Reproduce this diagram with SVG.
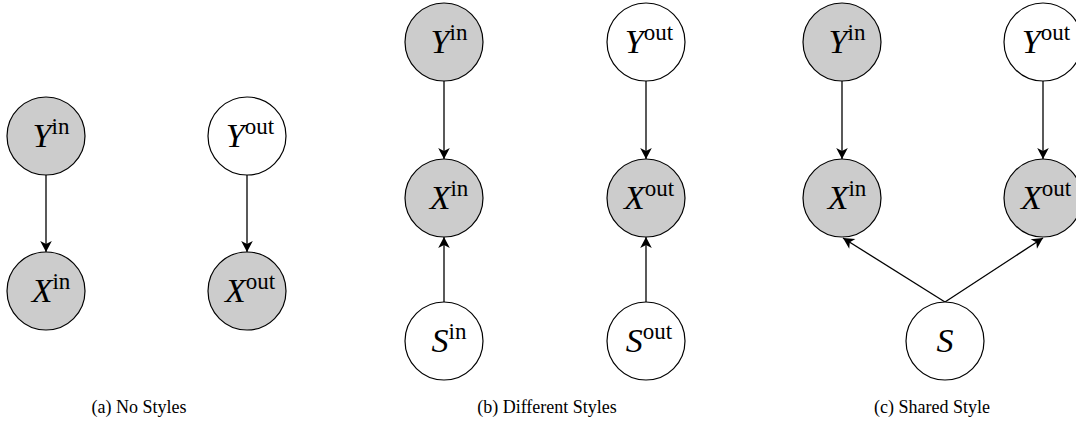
<svg xmlns="http://www.w3.org/2000/svg" width="1076" height="425" viewBox="0 0 1076 425">
<style>
.n{stroke:#000;stroke-width:1.2}
.obs{fill:#cccccc}
.lat{fill:#ffffff}
.lbl{font-family:"Liberation Serif","Times New Roman",serif;font-size:34px;fill:#000;text-anchor:middle}
.v{font-family:"Liberation Serif","Times New Roman",serif;font-style:italic}
.s{font-family:"Liberation Serif","Times New Roman",serif;font-style:normal;font-size:23px}
.e{stroke:#000;stroke-width:1.3;fill:none;marker-end:url(#ah)}
.cap{font-family:"Liberation Serif","Times New Roman",serif;font-size:18px;fill:#000;text-anchor:middle}
</style>
<defs>
<marker id="ah" markerUnits="userSpaceOnUse" markerWidth="13" markerHeight="13" viewBox="0 -6.5 12 13" refX="11" refY="0" orient="auto">
<path d="M11,0 L0,-5.8 L3,0 L0,5.8 Z" fill="#000"/>
</marker>
</defs>
<rect width="1076" height="425" fill="#fff"/>
<g id="connectors">
<line class="e" x1="46" y1="175" x2="46" y2="252"/>
<line class="e" x1="247" y1="175" x2="247" y2="252"/>
<line class="e" x1="444" y1="81" x2="444" y2="159"/>
<line class="e" x1="444" y1="302" x2="444" y2="237"/>
<line class="e" x1="646" y1="81" x2="646" y2="159"/>
<line class="e" x1="646" y1="302" x2="646" y2="237"/>
<line class="e" x1="842" y1="81" x2="842" y2="159"/>
<line class="e" x1="1043" y1="81" x2="1043" y2="159"/>
<line class="e" x1="945" y1="302" x2="843" y2="238"/>
<line class="e" x1="945" y1="302" x2="1043" y2="238"/>
</g>
<g id="a-Yin"><circle class="n obs" cx="46" cy="136" r="39"/><text class="lbl" x="51" y="147"><tspan class="v">Y</tspan><tspan class="s" dy="-13">in</tspan></text></g>
<g id="a-Xin"><circle class="n obs" cx="46" cy="291" r="39"/><text class="lbl" x="51" y="302"><tspan class="v">X</tspan><tspan class="s" dy="-13">in</tspan></text></g>
<g id="a-Yout"><circle class="n lat" cx="247" cy="136" r="39"/><text class="lbl" x="250" y="147"><tspan class="v">Y</tspan><tspan class="s" dy="-13">out</tspan></text></g>
<g id="a-Xout"><circle class="n obs" cx="247" cy="291" r="39"/><text class="lbl" x="250" y="302"><tspan class="v">X</tspan><tspan class="s" dy="-13">out</tspan></text></g>

<g id="b-Yin"><circle class="n obs" cx="444" cy="42" r="39"/><text class="lbl" x="449" y="53"><tspan class="v">Y</tspan><tspan class="s" dy="-13">in</tspan></text></g>
<g id="b-Xin"><circle class="n obs" cx="444" cy="198" r="39"/><text class="lbl" x="449" y="209"><tspan class="v">X</tspan><tspan class="s" dy="-13">in</tspan></text></g>
<g id="b-Sin"><circle class="n lat" cx="444" cy="341" r="39"/><text class="lbl" x="449" y="352"><tspan class="v">S</tspan><tspan class="s" dy="-13">in</tspan></text></g>
<g id="b-Yout"><circle class="n lat" cx="646" cy="42" r="39"/><text class="lbl" x="649" y="53"><tspan class="v">Y</tspan><tspan class="s" dy="-13">out</tspan></text></g>
<g id="b-Xout"><circle class="n obs" cx="646" cy="198" r="39"/><text class="lbl" x="649" y="209"><tspan class="v">X</tspan><tspan class="s" dy="-13">out</tspan></text></g>
<g id="b-Sout"><circle class="n lat" cx="646" cy="341" r="39"/><text class="lbl" x="649" y="352"><tspan class="v">S</tspan><tspan class="s" dy="-13">out</tspan></text></g>

<g id="c-Yin"><circle class="n obs" cx="842" cy="42" r="39"/><text class="lbl" x="847" y="53"><tspan class="v">Y</tspan><tspan class="s" dy="-13">in</tspan></text></g>
<g id="c-Xin"><circle class="n obs" cx="842" cy="198" r="39"/><text class="lbl" x="847" y="209"><tspan class="v">X</tspan><tspan class="s" dy="-13">in</tspan></text></g>
<g id="c-Yout"><circle class="n lat" cx="1043" cy="42" r="39"/><text class="lbl" x="1046" y="53"><tspan class="v">Y</tspan><tspan class="s" dy="-13">out</tspan></text></g>
<g id="c-Xout"><circle class="n obs" cx="1043" cy="198" r="39"/><text class="lbl" x="1046" y="209"><tspan class="v">X</tspan><tspan class="s" dy="-13">out</tspan></text></g>
<g id="c-S"><circle class="n lat" cx="945" cy="341" r="39"/><text class="lbl" x="945" y="352"><tspan class="v">S</tspan></text></g>

<g id="captions">
<text class="cap" x="139" y="413">(a) No Styles</text>
<text class="cap" x="547" y="413">(b) Different Styles</text>
<text class="cap" x="932" y="413">(c) Shared Style</text>
</g>
</svg>
